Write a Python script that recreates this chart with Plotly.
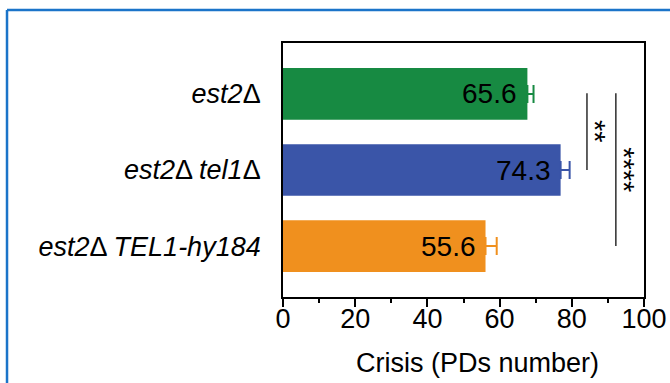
import plotly.graph_objects as go

# ---- data ----
strains = ["est2Δ", "est2Δ tel1Δ", "est2Δ TEL1-hy184"]
strain_labels = ["<i>est2</i>Δ", "<i>est2</i>Δ <i>tel1</i>Δ", "<i>est2</i>Δ <i>TEL1-hy184</i>"]
crisis_bar = [67.7, 76.9, 56.1]          # drawn bar lengths
crisis_label = ["65.6", "74.3", "55.6"]  # printed values
crisis_err = [1.7, 2.5, 3.1]             # one-sided error (SEM)
bar_colors = ["#178a42", "#3a55a8", "#f0901e"]
x_ticks = [0, 20, 40, 60, 80, 100]
sig_pairs = [(0, 1, "**"), (0, 2, "****")]
sig_x = [84.2, 92.2]

FONT = "Liberation Sans, Arial, sans-serif"

fig = go.Figure()
for i, s in enumerate(strains):
    fig.add_trace(go.Bar(
        y=[s], x=[crisis_bar[i]], orientation="h",
        marker=dict(color=bar_colors[i], line=dict(width=0)),
        width=0.68,
        error_x=dict(type="data", symmetric=False, array=[crisis_err[i]],
                     arrayminus=[0], color=bar_colors[i], thickness=2, width=9),
        showlegend=False, hoverinfo="skip",
    ))
    fig.add_annotation(x=crisis_bar[i], y=s, text=crisis_label[i], showarrow=False,
                       xanchor="right", xshift=-8, yshift=0,
                       font=dict(family=FONT, size=28, color="black"))

for (a, b, txt), xs in zip(sig_pairs, sig_x):
    fig.add_shape(type="line", x0=xs, x1=xs, y0=a - 0.01, y1=b,
                  xref="x", yref="y", line=dict(color="#3a3a3a", width=1.6))
    fig.add_annotation(x=xs, y=(a + b) / 2, text=txt, showarrow=False,
                       textangle=90, xanchor="left", xshift=-10,
                       font=dict(family=FONT, size=29, color="black"))

# x-axis title (placed slightly right of centre, as in the figure)
fig.add_annotation(x=0.54, y=-0.258, xref="paper", yref="paper",
                   text="Crisis (PDs number)", showarrow=False,
                   xanchor="center", yanchor="middle",
                   font=dict(family=FONT, size=27, color="black"))

# blue frame around the panel
fig.add_shape(type="line", xref="paper", yref="paper",
              x0=-0.7645, x1=2, y0=1.13, y1=1.13,
              line=dict(color="#1b74c9", width=2.5))
fig.add_shape(type="line", xref="paper", yref="paper",
              x0=-0.7645, x1=-0.7645, y0=1.13, y1=-1,
              line=dict(color="#1b74c9", width=2.5))

fig.update_layout(
    width=670, height=383,
    margin=dict(l=283, r=26, t=43, b=86, autoexpand=False),
    paper_bgcolor="white", plot_bgcolor="white",
    font=dict(family=FONT, color="black"),
    xaxis=dict(range=[0, 100], tickvals=x_ticks, ticks="outside", ticklen=8,
               tickwidth=1.5, tickcolor="black", automargin=False,
               ticklabelstandoff=-11,
               minor=dict(dtick=10, ticks="outside", ticklen=4, tickwidth=1.5, tickcolor="black"),
               showline=True, linecolor="black", linewidth=1.8, mirror=True,
               showgrid=False, zeroline=False,
               tickfont=dict(family=FONT, size=27)),
    yaxis=dict(categoryorder="array", categoryarray=strains, automargin=False,
               tickvals=strains, ticktext=strain_labels,
               range=[2.67, -0.67], showline=True, linecolor="black", linewidth=1.8,
               mirror=True, ticks="", showgrid=False, zeroline=False,
               ticklabelstandoff=15,
               tickfont=dict(family=FONT, size=27)),
)

fig.write_html("out.html", config={"displayModeBar": False},
               post_script="document.body.style.margin='0';document.body.style.overflow='hidden';")
